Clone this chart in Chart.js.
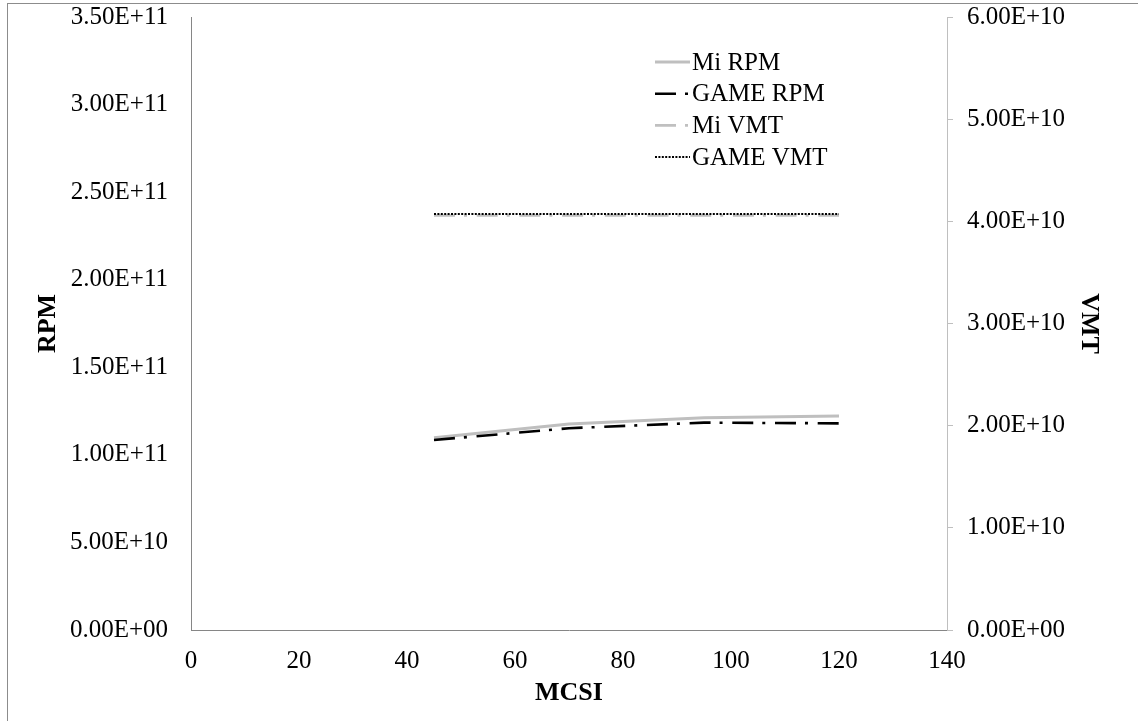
<!DOCTYPE html>
<html>
<head>
<meta charset="utf-8">
<script src="https://cdn.jsdelivr.net/npm/chart.js@4.4.0/dist/chart.umd.min.js"></script>
<style>
  html, body { margin: 0; padding: 0; background: #ffffff; }
  #wrap { width: 1138px; height: 721px; position: relative; }
</style>
</head>
<body>
<div id="wrap"><canvas id="c" width="1138" height="721"></canvas></div>
<script>
// MCSI values on the horizontal axis
const mcsi = [45, 70, 95, 120];
// RPM series (left axis)
const miRpm = [1.098e11, 1.176e11, 1.212e11, 1.222e11];
const gameRpm = [1.085e11, 1.152e11, 1.184e11, 1.180e11];
// VMT series (right axis)
const miVmt = [4.057e10, 4.057e10, 4.057e10, 4.057e10];
const gameVmt = [4.072e10, 4.072e10, 4.072e10, 4.072e10];
// series names
const seriesNames = ['Mi RPM', 'GAME RPM', 'Mi VMT', 'GAME VMT'];
// axis ranges
const xRange = [0, 140, 20];
const rpmRange = [0, 3.5e11, 5e10];
const vmtRange = [0, 6e10, 1e10];

const FONT = "'Liberation Serif', 'Times New Roman', serif";

function sci(v) {
  const parts = Number(v).toExponential(2).split('e');
  const n = parseInt(parts[1], 10);
  return parts[0] + 'E' + (n < 0 ? '-' : '+') + String(Math.abs(n)).padStart(2, '0');
}

function pts(ys) { return mcsi.map((x, i) => ({ x: x, y: ys[i] })); }

// fixed axis footprint, no extra label padding
function fixSize(w, h) {
  return function (s) {
    if (w !== null) s.width = w;
    if (h !== null) s.height = h;
    s.paddingTop = 0; s.paddingBottom = 0; s.paddingLeft = 0; s.paddingRight = 0;
  };
}

// thin frame around the whole chart
const frame = {
  id: 'frame',
  beforeDraw(chart) {
    const ctx = chart.ctx;
    ctx.save();
    ctx.strokeStyle = '#8c8c8c';
    ctx.lineWidth = 1;
    ctx.strokeRect(7.5, 3.5, 3000, 3000);
    ctx.restore();
  }
};

// legend drawn inside the plot, one sample line per series
const lineLegend = {
  id: 'lineLegend',
  afterDatasetsDraw(chart) {
    const ctx = chart.ctx;
    const x0 = 655, len = 35, y0 = 62, rowH = 31.7;
    chart.data.datasets.forEach((ds, i) => {
      const y = y0 + i * rowH;
      ctx.save();
      ctx.strokeStyle = ds.borderColor;
      ctx.lineWidth = ds.borderWidth;
      ctx.setLineDash(ds.borderDash || []);
      ctx.lineCap = ds.borderCapStyle || 'butt';
      ctx.beginPath();
      ctx.moveTo(x0, y);
      ctx.lineTo(x0 + len, y);
      ctx.stroke();
      ctx.restore();
      ctx.save();
      ctx.fillStyle = '#000000';
      ctx.font = '25px ' + FONT;
      ctx.textBaseline = 'middle';
      ctx.textAlign = 'left';
      ctx.fillText(ds.label, x0 + len + 2, y + 1);
      ctx.restore();
    });
  }
};

new Chart(document.getElementById('c'), {
  type: 'line',
  data: {
    datasets: [
      { label: seriesNames[0], data: pts(miRpm), yAxisID: 'y', borderColor: '#bfbfbf', borderWidth: 3,
        pointRadius: 0, order: 2 },
      { label: seriesNames[1], data: pts(gameRpm), yAxisID: 'y', borderColor: '#000000', borderWidth: 2.6,
        borderDash: [21, 9, 3, 9.7], pointRadius: 0, order: 1 },
      { label: seriesNames[2], data: pts(miVmt), yAxisID: 'y1', borderColor: '#c0c0c0', borderWidth: 2.6,
        borderDash: [21, 9, 3, 9.7], pointRadius: 0, order: 3 },
      { label: seriesNames[3], data: pts(gameVmt), yAxisID: 'y1', borderColor: '#000000', borderWidth: 2,
        borderDash: [2, 1.4], pointRadius: 0, order: 0 }
    ]
  },
  options: {
    responsive: false,
    animation: false,
    devicePixelRatio: 1,
    layout: { padding: { top: 17, left: 0, right: 0, bottom: 0 } },
    plugins: { legend: { display: false }, tooltip: { enabled: false } },
    elements: { line: { tension: 0 } },
    scales: {
      x: {
        type: 'linear', position: 'bottom',
        min: xRange[0], max: xRange[1],
        ticks: { stepSize: xRange[2], color: '#000000', font: { family: FONT, size: 25 }, padding: 16, maxRotation: 0 },
        grid: { drawOnChartArea: false, drawTicks: false },
        border: { display: true, color: '#868686', width: 1 },
        title: { display: true, text: 'MCSI', color: '#000000', font: { family: FONT, size: 26, weight: 'bold' },
                 padding: { top: 0, bottom: 12 } },
        afterFit: fixSize(null, 91)
      },
      y: {
        position: 'left',
        min: rpmRange[0], max: rpmRange[1],
        ticks: { stepSize: rpmRange[2], color: '#000000', font: { family: FONT, size: 25 }, padding: 23,
                 callback: (v) => sci(v) },
        grid: { drawOnChartArea: false, drawTicks: false },
        border: { display: true, color: '#868686', width: 1 },
        title: { display: true, text: 'RPM', color: '#000000', font: { family: FONT, size: 26, weight: 'bold' },
                 padding: { top: 33, bottom: 0 } },
        afterFit: fixSize(191, null)
      },
      y1: {
        position: 'right',
        min: vmtRange[0], max: vmtRange[1],
        ticks: { stepSize: vmtRange[2], color: '#000000', font: { family: FONT, size: 25 }, padding: 14,
                 callback: (v) => sci(v) },
        grid: { drawOnChartArea: false, drawTicks: true, tickLength: 6, color: '#bfbfbf' },
        border: { display: true, color: '#bfbfbf', width: 1 },
        title: { display: true, text: 'VMT', color: '#000000', font: { family: FONT, size: 26, weight: 'bold' },
                 padding: { top: 34, bottom: 0 } },
        afterFit: fixSize(191, null)
      }
    }
  },
  plugins: [frame, lineLegend]
});
</script>
</body>
</html>
